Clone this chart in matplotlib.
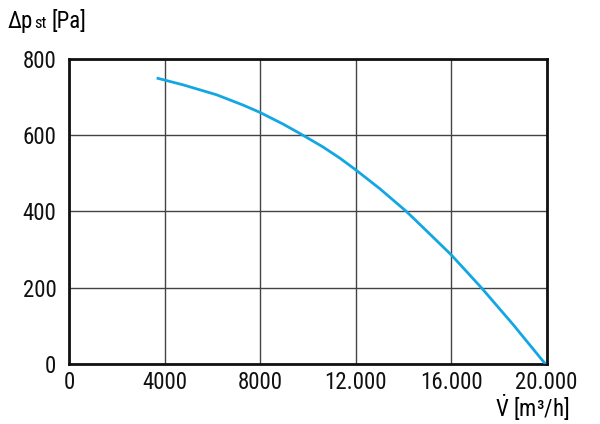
import matplotlib
matplotlib.use("Agg")
import matplotlib.pyplot as plt
from matplotlib import font_manager
from matplotlib.ticker import FixedLocator, FixedFormatter

# curve (volume flow m3/h, static pressure Pa)
flow = [3670, 4780, 6180, 7290, 7990, 8970, 9740, 10640, 11340, 12010,
        13010, 14130, 14960, 16010, 17270, 18590, 19950]
pressure = [750, 732, 706, 679, 660, 629, 602, 569, 540, 509,
            460, 400, 350, 286, 200, 104, 0]

x_ticks = [0, 4000, 8000, 12000, 16000, 20000]
x_labels = ["0", "4000", "8000", "12.000", "16.000", "20.000"]
y_ticks = [0, 200, 400, 600, 800]
y_labels = ["0", "200", "400", "600", "800"]

# condensed helvetica-like face if there is one, else Liberation Sans
names = {f.name for f in font_manager.fontManager.ttflist}
fam = "DejaVu Sans"
for cand in ["Liberation Sans Narrow", "Arial Narrow", "Roboto Condensed",
             "Open Sans Condensed", "Liberation Sans", "Arimo"]:
    if cand in names:
        fam = cand
        break
plt.rcParams['font.family'] = [fam, 'DejaVu Sans']
plt.rcParams['mathtext.fontset'] = 'custom'
plt.rcParams['mathtext.rm'] = fam
plt.rcParams['mathtext.it'] = fam
fs = 16.5

fig = plt.figure(figsize=(6, 4.24), dpi=100)
ax = fig.add_axes([0.115, 0.1415, 0.796, 0.7195])

ax.plot(flow, pressure, color="#12a7e3", lw=2.0, solid_capstyle="butt",
        solid_joinstyle="round", zorder=3)

ax.set_xlim(0, 20000)
ax.set_ylim(0, 800)
ax.xaxis.set_major_locator(FixedLocator(x_ticks))
ax.xaxis.set_major_formatter(FixedFormatter(x_labels))
ax.yaxis.set_major_locator(FixedLocator(y_ticks))
ax.yaxis.set_major_formatter(FixedFormatter(y_labels))
ax.tick_params(length=0, labelsize=fs, colors="#111111")
ax.tick_params(axis="x", pad=5)
ax.tick_params(axis="y", pad=9)
ax.grid(True, color="#444444", lw=1.0)
for s in ax.spines.values():
    s.set_linewidth(2.0)
    s.set_color("#111111")

# y title: "Δp" with small "st" on the same baseline, then "[Pa]"
r = fig.canvas.get_renderer()
base = 1 - 28 / 424
t1 = fig.text(8 / 600, base, "\u0394p", fontsize=fs, va="baseline", ha="left")
x1 = t1.get_window_extent(r).x1 / fig.bbox.width
t2 = fig.text(x1 + 1 / 600, base, "st", fontsize=12, va="baseline", ha="left")
x2 = t2.get_window_extent(r).x1 / fig.bbox.width
fig.text(x2 + 5 / 600, base, "[Pa]", fontsize=fs, va="baseline", ha="left")

x_title = r"$\dot{\mathrm{V}}$" + " [m\u00b3/h]"
fig.text(569 / 600, 1 - 417 / 424, x_title, fontsize=fs, va="baseline", ha="right")

fig.savefig("out.png", dpi=100, facecolor="white")
